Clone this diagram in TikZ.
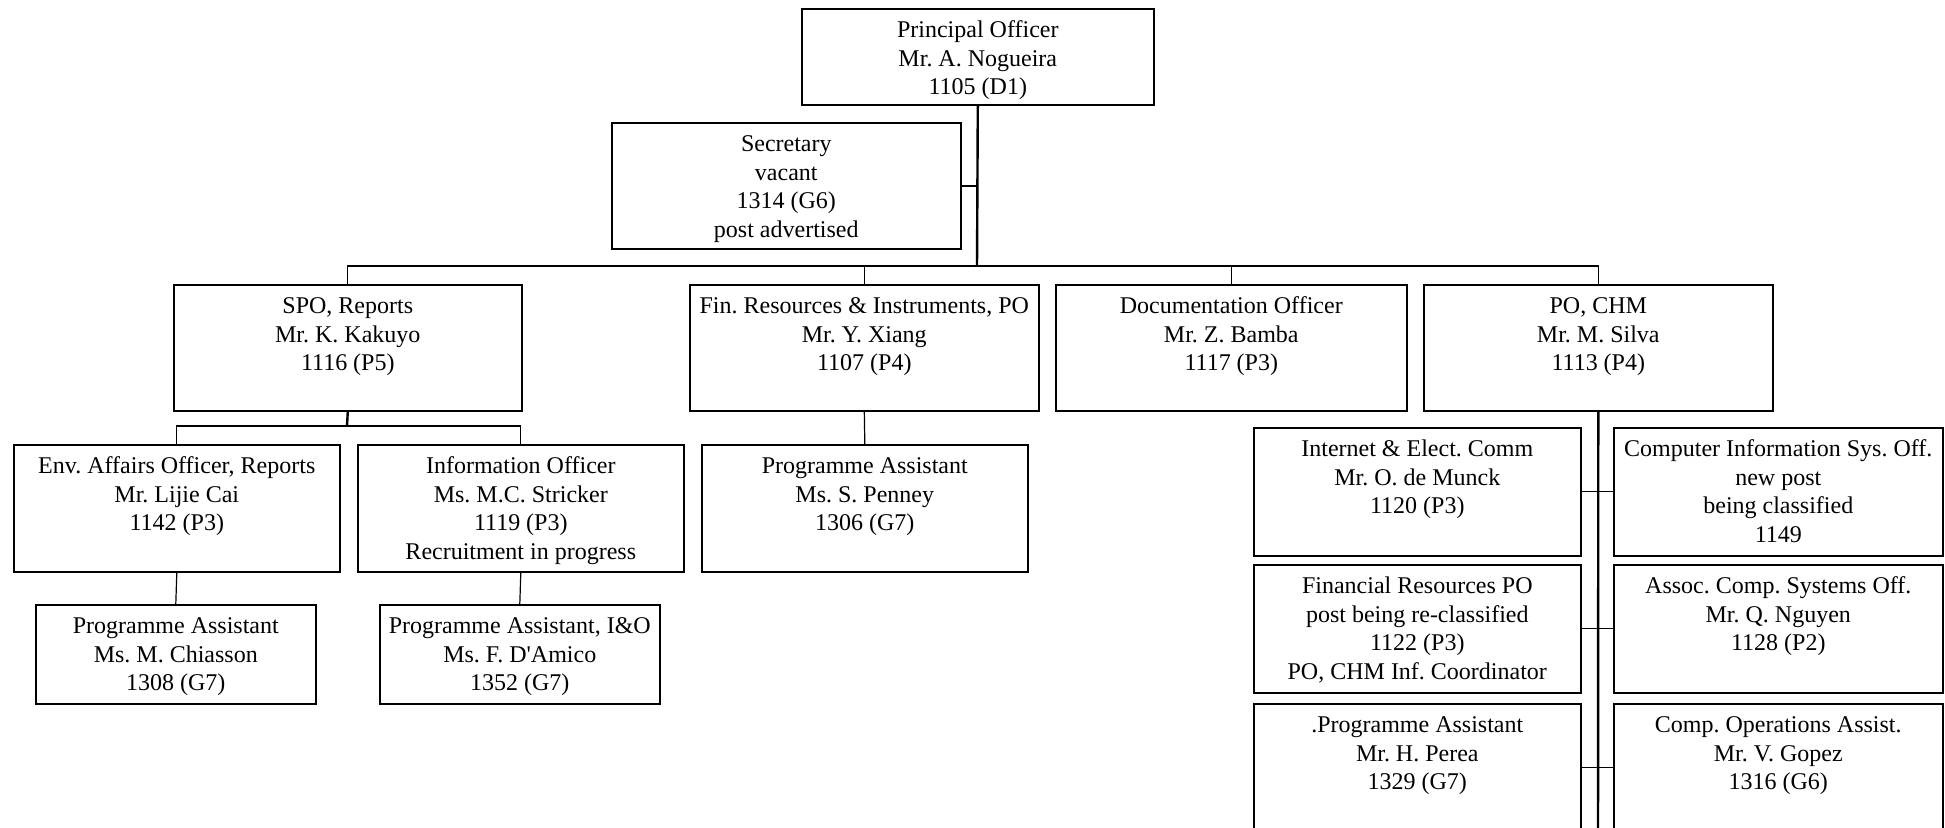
\documentclass[tikz,border=0pt]{standalone}
\usepackage{fontspec}
\setmainfont{Liberation Serif}
\newcommand\orgtext[3]{\parbox[t][#2][t]{#1}{\centering\rule{0pt}{29pt}#3\par}}
\tikzset{
  orgbox/.style={draw=black, line width=1.6pt, inner sep=0pt, anchor=north west, fill=white},
  thickline/.style={line width=2.4pt},
  thinline/.style={line width=1.2pt},
}
\begin{document}
\begin{tikzpicture}[x=1pt,y=-1pt]
\fontsize{24}{28.5}\selectfont\frenchspacing
\useasboundingbox (0,0) rectangle (1945,827);
\fill[white] (0,0) rectangle (1945,827);
\clip (0,0) rectangle (1945,827);
% boxes
\node[orgbox] (po) at (801,8) {\orgtext{352pt}{96pt}{Principal Officer\\Mr. A. Nogueira\\1105 (D1)}};
\node[orgbox] (sec) at (611,122) {\orgtext{349pt}{126pt}{Secretary\\vacant\\1314 (G6)\\post advertised}};
\node[orgbox] (spo) at (173,284) {\orgtext{348pt}{126pt}{SPO, Reports\\Mr. K. Kakuyo\\1116 (P5)}};
\node[orgbox] (fin) at (689,284) {\orgtext{349pt}{126pt}{Fin. Resources \& Instruments, PO\\Mr. Y. Xiang\\1107 (P4)}};
\node[orgbox] (doc) at (1055,284) {\orgtext{351pt}{126pt}{Documentation Officer\\Mr. Z. Bamba\\1117 (P3)}};
\node[orgbox] (chm) at (1423,284) {\orgtext{349pt}{126pt}{PO, CHM\\Mr. M. Silva\\1113 (P4)}};
\node[orgbox] (env) at (13,444) {\orgtext{326pt}{127pt}{Env. Affairs Officer, Reports\\Mr. Lijie Cai\\1142 (P3)}};
\node[orgbox] (info) at (357,444) {\orgtext{326pt}{127pt}{Information Officer\\Ms. M.C. Stricker\\1119 (P3)\\Recruitment in progress}};
\node[orgbox] (pen) at (701,444) {\orgtext{326pt}{127pt}{Programme Assistant\\Ms. S. Penney\\1306 (G7)}};
\node[orgbox] (chi) at (35,604) {\orgtext{280pt}{99pt}{Programme Assistant\\Ms. M. Chiasson\\1308 (G7)}};
\node[orgbox] (dam) at (379,604) {\orgtext{280pt}{99pt}{Programme Assistant, I\&O\\Ms. F. D\textquotesingle Amico\\1352 (G7)}};
\node[orgbox] (inet) at (1253,427) {\orgtext{327pt}{128pt}{Internet \& Elect. Comm\\Mr. O. de Munck\\1120 (P3)}};
\node[orgbox] (cis) at (1613,427) {\orgtext{329pt}{128pt}{Computer Information Sys. Off.\\new post\\being classified\\1149}};
\node[orgbox] (fr) at (1253,564) {\orgtext{327pt}{128pt}{Financial Resources PO\\post being re-classified\\1122 (P3)\\PO, CHM Inf. Coordinator}};
\node[orgbox] (acs) at (1613,564) {\orgtext{329pt}{128pt}{Assoc. Comp. Systems Off.\\Mr. Q. Nguyen\\1128 (P2)}};
\node[orgbox] (pa) at (1253,703) {\orgtext{327pt}{128pt}{.Programme Assistant\\Mr. H. Perea\\1329 (G7)}};
\node[orgbox] (cops) at (1613,703) {\orgtext{329pt}{128pt}{Comp. Operations Assist.\\Mr. V. Gopez\\1316 (G6)}};
% coordinates
\coordinate (bus) at (977,266);
\coordinate (sb) at (347,426);
\coordinate (chmend) at (1598,840);
% connectors
\draw[thickline] (po.south) -- (bus);
\draw[thickline] (sec.east) -- (sec.east -| po.south);
\draw[thinline] (spo.north) |- (chm.north |- bus) -- (chm.north);
\draw[thinline] (fin.north) -- (fin.north |- bus);
\draw[thinline] (doc.north) -- (doc.north |- bus);
\draw[thickline] (spo.south) -- (sb);
\draw[thinline] (env.north) |- (info.north |- sb) -- (info.north);
\draw[thinline] (env.south) -- (chi.north);
\draw[thinline] (info.south) -- (dam.north);
\draw[thinline] (fin.south) -- (pen.north);
\draw[thickline] (chm.south) -- (chmend);
\draw[thinline] (inet.east) -- (cis.west);
\draw[thinline] (fr.east) -- (acs.west);
\draw[thinline] (pa.east) -- (cops.west);
\end{tikzpicture}
\end{document}
